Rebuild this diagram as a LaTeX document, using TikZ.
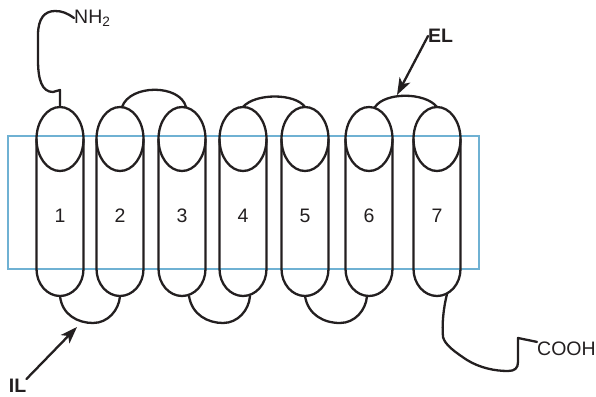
\documentclass[tikz,border=0pt]{standalone}
\usepackage{fontspec}
\setmainfont{Liberation Sans}
\usetikzlibrary{arrows.meta}

\definecolor{membrane}{RGB}{111,177,211}
\definecolor{ink}{RGB}{35,31,32}

\begin{document}
\begin{tikzpicture}[x=1pt, y=-1pt, >={Stealth[length=17pt, width=12pt, inset=4.5pt]}, line cap=round, line join=round]

    % Stili
    \tikzset{helix/.style={draw=ink, line width=2.3pt},
             num/.style={font=\fontsize{19.5}{22}\selectfont, text=ink, inner sep=0pt},
             tag/.style={font=\fontsize{19.5}{22}\selectfont\bfseries, text=ink, inner sep=0pt},
             pointer/.style={->, draw=ink, fill=ink, line width=2.3pt}}

    \useasboundingbox (0,0) rectangle (596,396);

    % Membrana
    \draw[membrane, line width=2.2pt, line join=miter] (8,136) rectangle (479,269);

    % --- Eliche transmembrana ---
    \foreach \cx [count=\i] in {60,120,182,243,305,369,437} {
        \draw[helix] (\cx,139) ellipse [x radius=23.5, y radius=32];
        \draw[helix] (\cx-23.5,139) -- (\cx-23.5,269)
            arc [start angle=180, end angle=0, x radius=23.5, y radius=27] -- (\cx+23.5,139);
        \node[num] (n\i) at (\cx,216) {\i};
        \coordinate (h\i t) at (\cx,107);
        \coordinate (h\i b) at (\cx,296);
    }

    % Anse extracellulari
    \draw[helix] ([xshift=2]h2t) .. controls (130,84) and (180,84) .. ([xshift=4]h3t);
    \draw[helix] (h4t) .. controls (255,93) and (295,93) .. (h5t);
    \draw[helix] ([xshift=6]h6t) .. controls (385,92) and (425,92) .. (h7t);

    % Anse intracellulari
    \draw[helix] (h1b) .. controls (62,315) and (78,323) .. (93,323)
                 .. controls (108,323) and (119,310) .. (h2b);
    \draw[helix] ([xshift=7]h3b) .. controls (192,315) and (208,323) .. (223,323)
                 .. controls (238,323) and (249,310) .. ([xshift=7]h4b);
    \draw[helix] (h5b) .. controls (308,315) and (324,323) .. (340,323)
                 .. controls (355,323) and (366,310) .. ([xshift=-2]h6b);

    % Estremo N
    \node[num, anchor=west] (nh2) at (74,18) {NH\textsubscript{2}};
    \draw[helix] (h1t) -- (60,90) -- (53,92) .. controls (42,92) and (38,80) .. (38,60)
                 -- (38,35) .. controls (38,18) and (45,11) .. (55,11)
                 .. controls (62,11) and (67,13) .. (nh2.west);

    % Estremo C
    \node[num, anchor=west] (cooh) at (537,349) {COOH};
    \coordinate (ct) at (447,294);
    \draw[helix] (ct) .. controls (443,310) and (442,325) .. (443,337)
                 .. controls (445,345) and (455,352) .. (467,360)
                 .. controls (480,368) and (495,371) .. (508,371)
                 .. controls (515,371) and (518,368) .. (518,362)
                 -- (518,338) -- (cooh.north west);

    % Etichette EL / IL
    \node[tag, anchor=west] (el) at (428,36) {EL};
    \coordinate (elt) at (397,95);
    \draw[pointer] (el.west) -- (elt);

    \node[tag] (il) at (17.5,386) {IL};
    \coordinate (ilt) at (77,327);
    \draw[pointer] (il.north east) -- (ilt);

\end{tikzpicture}
\end{document}
